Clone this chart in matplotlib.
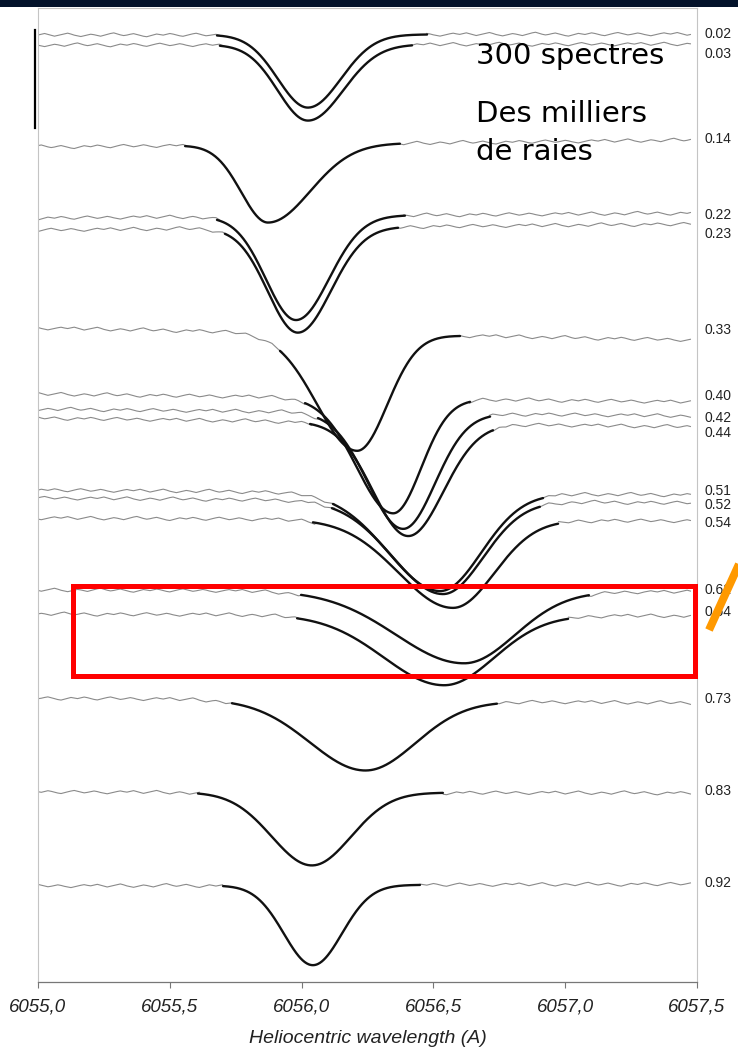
import matplotlib
matplotlib.use("Agg")
import matplotlib.pyplot as plt
from matplotlib.patches import Rectangle
from matplotlib.lines import Line2D
import matplotlib.transforms as mtransforms
import numpy as np

# phase of each spectrum (right-hand labels)
phases = ["0.02", "0.03", "0.14", "0.22", "0.23", "0.33", "0.40", "0.42", "0.44",
          "0.51", "0.52", "0.54", "0.62", "0.64", "0.73", "0.83", "0.92"]

# continuum level (flux + offset) at the blue and red ends of the window
cont_blue = [9.47, 9.37, 8.35, 7.64, 7.52, 6.54, 5.88, 5.73, 5.64,
             4.92, 4.84, 4.64, 3.92, 3.68, 2.84, 1.90, 0.96]
cont_red = [9.48, 9.38, 8.42, 7.69, 7.58, 6.42, 5.80, 5.66, 5.55,
            4.87, 4.79, 4.61, 3.90, 3.66, 2.79, 1.89, 0.98]

# fitted line: centre (A), depth, blue / red half-widths (A)
line_center = [6056.024, 6056.024, 6055.873, 6055.979, 6055.986, 6056.210, 6056.347, 6056.385, 6056.404,
               6056.525, 6056.536, 6056.574, 6056.616, 6056.540, 6056.241, 6056.039, 6056.043]
line_depth = [0.73, 0.76, 0.78, 1.04, 1.05, 1.17, 1.15, 1.16, 1.13,
              0.98, 0.93, 0.88, 0.72, 0.70, 0.70, 0.73, 0.80]
sigma_blue = [0.114, 0.114, 0.102, 0.114, 0.114, 0.152, 0.137, 0.133, 0.133,
              0.197, 0.190, 0.205, 0.258, 0.228, 0.209, 0.152, 0.110]
sigma_red = [0.125, 0.133, 0.159, 0.125, 0.125, 0.114, 0.106, 0.121, 0.133,
             0.156, 0.152, 0.156, 0.193, 0.190, 0.190, 0.148, 0.110]

# wavelength range covered by each fit
fit_start = [6055.679, 6055.690, 6055.558, 6055.679, 6055.709, 6055.918, 6056.013, 6056.062, 6056.032,
             6056.119, 6056.115, 6056.043, 6055.998, 6055.983, 6055.736, 6055.607, 6055.702]
fit_end = [6056.476, 6056.419, 6056.373, 6056.392, 6056.366, 6056.601, 6056.639, 6056.715, 6056.726,
           6056.916, 6056.904, 6056.973, 6057.090, 6057.011, 6056.741, 6056.536, 6056.449]

# small-scale noise of the observed continuum (flux units x 100)
ripple = [0.0, 0.8, 1.5, 0.6, -0.4, -1.2, -0.5, 0.3, 1.1, 1.8, 0.9, -0.2, -0.9, -1.6, -0.8, 0.1,
          0.7, 0.2, -0.6, -1.3, -0.4, 0.5, 1.4, 2.0, 1.0, 0.0, -0.7, -0.2, 0.6, 1.2, 0.4, -0.5,
          -1.4, -1.9, -1.0, -0.1, 0.8, 0.3, -0.3, 0.5, 1.3, 0.7, -0.2, -1.0, -1.5, -0.6, 0.2, 1.0,
          1.6, 0.8, -0.1, -0.8, -0.3, 0.4, 1.1, 0.5, -0.4, -1.1, -1.7, -0.9, 0.0, 0.6, 1.2, 0.5]

# label heights (same units as the flux offsets)
label_y = [9.48, 9.28, 8.43, 7.67, 7.48, 6.52, 5.86, 5.64, 5.49,
           4.91, 4.77, 4.59, 3.92, 3.70, 2.83, 1.91, 0.99]

xticks = [6055.0, 6055.5, 6056.0, 6056.5, 6057.0, 6057.5]
wl_lo, wl_hi = 6055.0, 6057.5


def line_profile(wl, c, d, sb, sr):
    s = np.where(wl < c, sb, sr)
    return d * np.exp(-0.5 * ((wl - c) / s) ** 2)


W, H = 738, 1058
fig = plt.figure(figsize=(W / 100, H / 100), dpi=100)
fig.patch.set_facecolor("white")
ax = fig.add_axes([38 / W, 76 / H, 659 / W, 974 / H])

wl_obs = np.arange(6055.0, 6057.475, 0.0125)
n_r = len(ripple)

for i, ph in enumerate(phases):
    base = np.interp(wl_obs, [wl_lo, wl_hi], [cont_blue[i], cont_red[i]])
    noise = np.array([ripple[(k + 11 * i) % n_r] for k in range(len(wl_obs))]) / 100.0
    obs = base + noise - line_profile(wl_obs, line_center[i], line_depth[i], sigma_blue[i], sigma_red[i])
    obs = np.where((wl_obs > fit_start[i] + 0.01) & (wl_obs < fit_end[i] - 0.01), np.nan, obs)
    ax.plot(wl_obs, obs, color="#8a8a8a", lw=0.8, zorder=2)

    wl_fit = np.linspace(fit_start[i], fit_end[i], 300)
    fbase = np.interp(wl_fit, [wl_lo, wl_hi], [cont_blue[i], cont_red[i]])
    fit = fbase - line_profile(wl_fit, line_center[i], line_depth[i], sigma_blue[i], sigma_red[i])
    ax.plot(wl_fit, fit, color="#111111", lw=1.7, solid_capstyle="round", zorder=3)

trans = mtransforms.blended_transform_factory(ax.transAxes, ax.transData)
for ph, ly in zip(phases, label_y):
    ax.text(1.011, ly, ph, transform=trans, ha="left", va="center", fontsize=10,
            family="Liberation Sans", color="#222222", clip_on=False)

ax.set_xlim(wl_lo, wl_hi)
ax.set_ylim(0, 9.74)
ax.set_yticks([])
ax.set_xticks(xticks)
ax.set_xticklabels([f"{v:.1f}".replace(".", ",") for v in xticks],
                   fontsize=13.5, fontstyle="italic", family="Liberation Sans", color="#222222")
ax.tick_params(axis="x", direction="out", length=4, color="#777777", pad=8)
for side in ["left", "right", "top"]:
    ax.spines[side].set_color("#c4c4c4")
    ax.spines[side].set_linewidth(0.8)
ax.spines["bottom"].set_color("#777777")
ax.spines["bottom"].set_linewidth(0.9)
ax.set_xlabel("Heliocentric wavelength (A)", fontsize=14, fontstyle="italic",
              family="Liberation Sans", color="#222222", labelpad=10)

# title band and slide decorations
fig.patches.append(Rectangle((0, 1 - 7 / H), 1, 7 / H, transform=fig.transFigure,
                             facecolor="#03122a", edgecolor="none", zorder=0))
fig.lines.append(Line2D([35 / W, 35 / W], [1 - 30 / H, 1 - 128 / H], transform=fig.transFigure,
                        color="black", lw=1.6))
fig.patches.append(Rectangle((72.5 / W, 1 - 675.5 / H), 622 / W, 90 / H, transform=fig.transFigure,
                             facecolor="none", edgecolor="#ff0000", lw=3.6, zorder=5))
fig.lines.append(Line2D([709 / W, 740 / W], [1 - 630 / H, 1 - 562 / H], transform=fig.transFigure,
                        color="#ff9900", lw=5.8, solid_capstyle="butt", zorder=6))

fig.text(476 / W, 1 - 64 / H, "300 spectres", fontsize=21, family="DejaVu Sans",
         va="baseline", ha="left", color="black")
fig.text(476 / W, 1 - 122 / H, "Des milliers", fontsize=21, family="DejaVu Sans",
         va="baseline", ha="left", color="black")
fig.text(476 / W, 1 - 160 / H, "de raies", fontsize=21, family="DejaVu Sans",
         va="baseline", ha="left", color="black")

fig.savefig("out.png", dpi=100, facecolor="white")
